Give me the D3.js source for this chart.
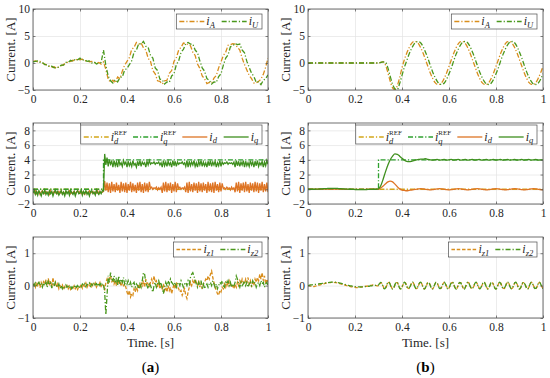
<!DOCTYPE html>
<html>
<head>
<meta charset="utf-8">
<script src="https://cdnjs.cloudflare.com/ajax/libs/d3/7.8.5/d3.min.js"></script>
<style>
  body { margin: 0; background: #fff; }
  svg { display: block; }
</style>
</head>
<body>
<div id="chart"></div>
<script>
// ---- data ----
const xTicks = [0, 0.2, 0.4, 0.6, 0.8, 1];

// sample times: 0.01 s and 0.005 s
const tCoarse = d3.range(0, 101).map(i => i / 100);
const tFine = d3.range(0, 201).map(i => i / 200);

// reference steps (both columns)
const refT = [0, 0.3, 0.3, 1];
const idRef = [0, 0, 0, 0];
const iqRef = [0, 0, 4, 4];

// (a) top: phase currents, 0.01 s
const iaLeft = [0.3,0.4,0.2,0.3,0.0,-0.2,-0.4,-0.6,-0.8,-0.7,
  -1.0,-0.7,-0.5,-0.3,0.0,0.2,0.3,0.5,0.4,0.8,
  0.6,0.7,0.4,0.5,0.2,0.3,0.1,-0.1,0.1,-0.2,
  0.2,-1.2,-3.0,-3.6,-3.2,-3.7,-2.6,-2.9,-1.5,-0.4,
  0.3,1.0,2.5,2.9,3.8,3.5,3.7,2.8,2.4,0.9,
  0.3,-1.4,-2.0,-3.3,-3.4,-3.9,-3.3,-3.2,-1.9,-1.4,
  0.3,1.0,2.4,2.9,3.7,3.6,3.4,3.2,2.0,1.4,
  -0.2,-1.0,-2.4,-2.9,-3.8,-3.6,-3.7,-2.8,-2.3,-0.9,
  0.2,1.4,2.0,3.3,3.4,3.6,3.5,2.9,2.4,0.9,
  -0.3,-1.3,-2.3,-2.9,-3.7,-3.7,-3.4,-3.0,-2.1,-0.8,
  0.9];
const iuLeft = [0.2,0.3,0.4,0.1,0.1,-0.3,-0.3,-0.7,-0.6,-0.9,
  -0.8,-0.8,-0.4,-0.4,0.1,0.1,0.5,0.3,0.7,0.6,
  0.9,0.5,0.6,0.3,0.4,0.0,0.2,-0.2,0.0,0.1,
  2.4,-0.5,-2.4,-3.3,-3.7,-3.1,-3.5,-2.7,-2.6,-1.3,
  -1.0,-0.3,0.4,2.0,2.4,3.6,3.5,4.0,3.1,2.9,
  1.4,0.9,-0.9,-1.4,-3.0,-3.1,-3.9,-3.5,-3.6,-2.4,
  -2.0,-0.3,0.4,2.0,2.5,3.6,3.8,3.5,3.5,2.4,
  1.9,0.4,-0.9,-1.5,-2.9,-3.2,-3.9,-3.5,-3.6,-2.5,
  -2.0,-0.4,0.9,1.5,3.0,3.2,3.6,3.4,3.5,2.4,
  1.9,0.3,-0.8,-1.9,-2.5,-3.6,-3.5,-4.0,-3.2,-2.9,
  -2.2];

// (b) top: phase currents, 0.01 s
const iaRight = [0,0,0,0,0,0,0,0,0,0,
  0,0,0,0,0,0,0,0,0,0,
  0,0,0,0,0,0,0,0,0,0,
  0,0.1,0.2,-0.4,-1.8,-3.4,-4.6,-4.9,-4.2,-2.7,
  -0.9,0.6,1.8,2.8,3.6,3.95,3.95,3.6,2.8,1.8,
  0.6,-0.6,-1.8,-2.8,-3.6,-3.95,-3.95,-3.6,-2.8,-1.8,
  -0.6,0.6,1.8,2.8,3.6,3.95,3.95,3.6,2.8,1.8,
  0.6,-0.6,-1.8,-2.8,-3.6,-3.95,-3.95,-3.6,-2.8,-1.8,
  -0.6,0.6,1.8,2.8,3.6,3.95,3.95,3.6,2.8,1.8,
  0.6,-0.6,-1.8,-2.8,-3.6,-3.95,-3.95,-3.6,-2.8,-1.8,
  -0.6];
const iuRight = [0,0,0,0,0,0,0,0,0,0,
  0,0,0,0,0,0,0,0,0,0,
  0,0,0,0,0,0,0,0,0,0,
  0,0.1,0.2,0.1,-0.9,-2.5,-3.9,-4.8,-4.9,-3.8,
  -2.3,-0.8,0.4,1.6,2.6,3.4,3.9,3.98,3.7,3.0,
  2.0,0.9,-0.4,-1.6,-2.6,-3.4,-3.9,-3.98,-3.7,-3.0,
  -2.0,-0.9,0.4,1.6,2.6,3.4,3.9,3.98,3.7,3.0,
  2.0,0.9,-0.4,-1.6,-2.6,-3.4,-3.9,-3.98,-3.7,-3.0,
  -2.0,-0.9,0.4,1.6,2.6,3.4,3.9,3.98,3.7,3.0,
  2.0,0.9,-0.4,-1.6,-2.6,-3.4,-3.9,-3.98,-3.7,-3.0,
  -2.0];

// (a) middle: dq currents, 0.005 s
const idLeft = [-0.3,-0.5,-0.2,-0.6,-0.4,-0.3,-0.7,-0.4,-0.2,-0.5,
  -0.6,-0.3,-0.5,-0.4,-0.7,-0.2,-0.4,-0.6,-0.3,-0.5,
  -0.4,-0.6,-0.3,-0.5,-0.2,-0.6,-0.4,-0.7,-0.3,-0.5,
  -0.4,-0.2,-0.6,-0.4,-0.5,-0.3,-0.6,-0.4,-0.2,-0.5,
  -0.3,-0.6,-0.4,-0.5,-0.7,-0.3,-0.4,-0.6,-0.2,-0.5,
  -0.4,-0.3,-0.6,-0.4,-0.5,-0.2,-0.6,-0.3,-0.5,-0.4,
  -0.3,1.1,-0.2,0.9,-0.4,0.8,-0.5,1.0,-0.3,0.7,
  -0.4,0.9,-0.2,0.6,-0.5,1.0,-0.3,0.8,-0.4,0.9,
  -0.5,0.7,-0.2,1.0,-0.4,0.8,-0.3,0.6,-0.5,0.9,
  -0.2,1.0,-0.4,0.7,-0.5,0.9,-0.3,0.8,-0.4,1.0,
  0.1,0.3,0.0,0.2,0.1,0.3,-0.1,0.2,0.0,0.3,
  -0.5,0.9,-0.3,1.0,-0.4,0.8,-0.2,0.9,-0.5,0.7,
  -0.3,1.0,-0.4,0.8,0.1,0.3,0.0,0.2,0.1,0.3,
  -0.4,0.9,-0.5,1.0,-0.3,0.7,-0.4,0.9,-0.2,0.8,
  -0.5,1.0,-0.3,0.8,-0.4,0.9,-0.2,0.7,-0.5,1.0,
  -0.3,0.8,-0.4,0.9,-0.5,1.0,-0.2,0.7,-0.4,0.9,
  -0.3,0.8,0.1,0.2,0.0,0.3,0.1,0.2,-0.1,0.3,
  0.0,0.2,-0.4,0.9,-0.3,1.0,-0.5,0.8,-0.2,0.9,
  -0.4,1.0,-0.3,0.7,-0.5,0.9,-0.2,0.8,-0.4,1.0,
  -0.3,0.9,-0.5,0.8,-0.2,1.0,-0.4,0.7,-0.3,0.9,
  -0.4];
const iqLeft = [-0.5,-0.1,-0.7,-0.3,-0.8,-0.2,-0.5,-0.9,-0.3,-0.6,
  -0.1,-0.7,-0.4,-0.8,-0.2,-0.6,-0.3,-0.9,-0.4,-0.1,
  -0.6,-0.3,-0.8,-0.5,-0.2,-0.7,-0.4,-0.9,-0.2,-0.6,
  -0.3,-0.8,-0.1,-0.5,-0.7,-0.3,-0.9,-0.4,-0.2,-0.6,
  -0.5,-0.1,-0.8,-0.3,-0.6,-0.2,-0.7,-0.4,-0.9,-0.3,
  -0.2,-0.6,-0.4,-0.8,-0.1,-0.5,-0.7,-0.3,-0.6,-0.2,
  -0.2,4.8,3.3,4.3,3.1,4.0,3.4,3.8,3.0,3.9,
  3.2,3.7,3.0,4.0,3.3,3.6,3.1,3.9,3.4,3.7,
  3.0,3.8,3.2,3.6,3.1,3.9,3.3,3.5,3.0,3.8,
  3.2,3.9,3.1,3.7,3.4,3.6,3.0,3.8,3.3,3.9,
  3.4,3.6,3.5,3.7,3.4,3.6,3.5,3.7,3.3,3.6,
  3.0,3.9,3.2,3.7,3.1,3.8,3.3,3.6,3.0,3.9,
  3.2,3.8,3.1,3.7,3.4,3.6,3.5,3.7,3.4,3.6,
  3.1,3.9,3.0,3.8,3.2,3.7,3.3,3.9,3.1,3.6,
  3.0,3.8,3.3,3.9,3.1,3.7,3.2,3.6,3.0,3.8,
  3.2,3.9,3.1,3.7,3.3,3.8,3.0,3.6,3.2,3.9,
  3.1,3.7,3.4,3.6,3.5,3.7,3.4,3.6,3.5,3.6,
  3.4,3.7,3.0,3.9,3.2,3.8,3.1,3.7,3.3,3.9,
  3.0,3.8,3.2,3.6,3.1,3.9,3.3,3.7,3.0,3.8,
  3.2,3.9,3.1,3.6,3.3,3.8,3.0,3.7,3.2,3.9,
  3.4];

// (b) middle: dq currents, 0.01 s
const idRight = [0,0,0,0,0,0.01,0.02,0.03,0.03,0.04,
  0.04,0.04,0.03,0.03,0.02,0.01,0,-0.01,-0.01,-0.02,
  -0.02,-0.02,-0.02,-0.01,-0.01,0,0,0,0,0,
  0.0,0.2,0.45,0.75,1.0,1.1,1.0,0.7,0.35,0.05,
  -0.1,-0.15,-0.2,-0.15,-0.1,-0.05,0.0,0.05,0.08,0.05,
  0.0,-0.05,-0.08,-0.05,0.0,0.05,0.08,0.05,0.0,-0.05,
  -0.08,-0.05,0.0,0.05,0.08,0.05,0.0,-0.05,-0.08,-0.05,
  0.0,0.05,0.08,0.05,0.0,-0.05,-0.08,-0.05,0.0,0.05,
  0.08,0.05,0.0,-0.05,-0.08,-0.05,0.0,0.05,0.08,0.05,
  0.0,-0.05,-0.08,-0.05,0.0,0.05,0.08,0.05,0.0,-0.05,
  -0.08];
const iqRight = [0,0,0,0,0.02,0.04,0.06,0.08,0.1,0.12,
  0.13,0.13,0.12,0.1,0.08,0.05,0.03,0.01,0,-0.02,
  -0.03,-0.04,-0.05,-0.05,-0.04,-0.03,-0.02,-0.01,0,0,
  0.05,0.5,1.4,2.4,3.3,4.0,4.5,4.8,4.75,4.5,
  4.2,3.95,3.8,3.75,3.8,3.9,4.0,4.05,4.1,4.1,
  4.15,4.05,4.0,3.95,4.0,4.05,3.95,4.0,4.05,3.95,
  4.0,4.05,3.95,4.0,4.05,3.95,4.0,4.05,3.95,4.0,
  4.05,3.95,4.0,4.05,3.95,4.0,4.05,3.95,4.0,4.05,
  3.95,4.0,4.05,3.95,4.0,4.05,3.95,4.0,4.05,3.95,
  4.0,4.05,3.95,4.0,4.05,3.95,4.0,4.05,3.95,4.0,
  4.0];

// (a) bottom: zero-sequence currents, 0.005 s
const iz1Left = [0.0,0.05,-0.05,0.1,0.0,0.08,-0.06,0.1,0.02,0.12,
  0.05,0.18,0.0,0.22,0.05,0.15,-0.05,0.25,0.0,0.1,
  -0.05,0.05,-0.1,0.0,-0.05,0.02,-0.12,-0.03,-0.08,0.0,
  -0.1,-0.02,-0.12,-0.05,-0.08,0.0,-0.1,-0.04,-0.12,-0.02,
  -0.05,0.05,-0.08,0.02,-0.02,0.08,-0.05,0.04,0.0,0.06,
  -0.03,0.05,0.0,0.08,-0.05,0.03,0.02,0.1,-0.02,0.05,
  0.0,-0.15,0.1,0.2,0.05,0.25,0.3,0.1,0.22,0.05,
  0.15,0.0,0.2,0.08,0.12,-0.02,0.1,0.0,0.05,-0.05,
  -0.2,-0.3,-0.15,-0.35,-0.25,-0.3,-0.1,-0.2,-0.05,-0.15,
  0.05,-0.1,0.1,0.0,0.15,-0.05,0.2,0.05,0.1,-0.05,
  0.1,0.2,0.05,0.3,0.1,0.15,-0.05,0.1,-0.1,0.0,
  -0.1,0.05,-0.15,-0.05,-0.2,0.0,-0.15,-0.05,-0.25,-0.1,
  0.05,-0.1,0.1,-0.05,-0.1,-0.2,-0.15,-0.3,-0.2,-0.1,
  -0.3,-0.4,-0.2,-0.05,0.1,0.0,0.15,0.05,0.2,0.1,
  0.0,0.15,-0.05,0.1,-0.1,0.05,0.1,0.2,0.15,0.3,
  0.2,0.35,0.45,0.25,0.1,-0.05,-0.15,-0.25,-0.3,-0.15,
  -0.2,-0.05,-0.1,0.05,-0.05,0.1,0.0,0.15,0.05,-0.05,
  0.0,-0.1,0.05,-0.05,0.1,0.0,0.15,0.05,0.2,0.1,
  0.05,0.2,0.1,0.25,0.05,0.15,-0.05,0.1,0.0,0.2,
  0.1,0.25,0.15,0.35,0.2,0.4,0.15,0.3,0.05,0.2,
  0.1];
const iz2Left = [0.05,0.0,0.08,-0.02,0.05,0.1,0.0,0.05,-0.05,0.08,
  0.0,0.1,-0.05,0.12,0.02,0.08,-0.08,0.05,-0.02,0.1,
  0.0,-0.05,0.05,-0.08,0.0,-0.1,-0.02,-0.06,0.02,-0.05,
  -0.02,-0.08,0.0,-0.1,-0.04,-0.06,0.02,-0.05,0.0,-0.08,
  0.0,-0.04,0.05,0.0,0.06,-0.03,0.04,0.02,0.08,-0.02,
  0.05,0.0,0.1,0.02,0.06,-0.02,0.08,0.0,0.1,0.03,
  0.05,-0.2,-0.9,-0.3,0.3,0.1,0.4,0.2,0.15,0.3,
  0.1,0.25,0.0,0.3,0.05,0.2,0.1,0.25,0.05,0.15,
  0.05,0.15,0.0,0.1,-0.05,0.05,0.1,-0.05,0.05,0.0,
  -0.1,0.05,-0.05,0.15,0.4,0.35,0.1,0.0,-0.1,0.05,
  0.0,-0.1,-0.2,0.0,0.1,-0.05,0.05,0.15,0.0,0.1,
  -0.1,-0.25,-0.05,0.1,0.0,0.15,0.05,0.2,0.1,0.05,
  0.0,0.1,-0.05,0.05,0.1,0.0,0.15,0.05,-0.05,0.05,
  0.1,0.0,0.15,0.05,0.25,0.35,0.4,0.3,0.15,0.05,
  -0.05,0.1,0.0,0.15,-0.05,0.05,-0.1,0.0,0.05,-0.05,
  0.05,0.1,0.0,0.15,0.05,-0.05,0.05,-0.1,0.0,0.1,
  0.05,0.15,0.0,-0.05,0.1,0.05,0.15,0.0,0.1,-0.05,
  0.05,0.0,0.1,0.3,0.2,0.05,-0.05,0.1,0.0,0.05,
  0.15,0.0,0.1,-0.05,0.05,0.1,0.0,0.15,0.05,0.1,
  -0.05,0.05,0.1,0.0,0.15,0.05,0.1,-0.05,0.05,0.1,
  0.0];

// (b) bottom: zero-sequence currents, 0.005 s
const iz1Right = [0.0,0.0,-0.01,-0.02,-0.02,-0.03,-0.02,-0.01,0.0,0.01,
  0.02,0.03,0.04,0.05,0.06,0.07,0.08,0.08,0.09,0.09,
  0.1,0.1,0.1,0.09,0.09,0.08,0.07,0.06,0.05,0.04,
  0.03,0.02,0.01,0.0,-0.01,-0.02,-0.03,-0.04,-0.04,-0.05,
  -0.05,-0.06,-0.06,-0.06,-0.05,-0.05,-0.04,-0.04,-0.03,-0.02,
  -0.02,-0.01,0.0,0.01,0.01,0.02,0.02,0.01,0.0,-0.01,
  0.0,0.05,0.09,0.06,-0.03,-0.09,-0.08,0.0,0.08,0.1,
  0.04,-0.05,-0.1,-0.07,0.02,0.09,0.09,0.02,-0.07,-0.1,
  -0.05,0.04,0.1,0.08,-0.01,-0.08,-0.09,-0.03,0.06,0.1,
  0.06,-0.03,-0.09,-0.08,0.0,0.08,0.1,0.04,-0.05,-0.1,
  -0.07,0.02,0.09,0.09,0.02,-0.07,-0.1,-0.05,0.04,0.1,
  0.08,-0.01,-0.08,-0.09,-0.03,0.06,0.1,0.06,-0.03,-0.09,
  -0.08,0.0,0.08,0.1,0.04,-0.05,-0.1,-0.07,0.02,0.09,
  0.09,0.02,-0.07,-0.1,-0.05,0.04,0.1,0.08,-0.01,-0.08,
  -0.09,-0.03,0.06,0.1,0.06,-0.03,-0.09,-0.08,0.0,0.08,
  0.1,0.04,-0.05,-0.1,-0.07,0.02,0.09,0.09,0.02,-0.07,
  -0.1,-0.05,0.04,0.1,0.08,-0.01,-0.08,-0.09,-0.03,0.06,
  0.1,0.06,-0.03,-0.09,-0.08,0.0,0.08,0.1,0.04,-0.05,
  -0.1,-0.07,0.02,0.09,0.09,0.02,-0.07,-0.1,-0.05,0.04,
  0.1,0.08,-0.01,-0.08,-0.09,-0.03,0.06,0.1,0.06,-0.03,
  -0.09];
const iz2Right = [0.0,0.01,0.02,0.02,0.03,0.03,0.04,0.04,0.05,0.05,
  0.06,0.06,0.07,0.07,0.08,0.08,0.09,0.09,0.1,0.1,
  0.11,0.11,0.11,0.11,0.1,0.1,0.09,0.08,0.07,0.06,
  0.05,0.04,0.03,0.02,0.01,0.0,-0.01,-0.01,-0.02,-0.02,
  -0.03,-0.03,-0.03,-0.04,-0.04,-0.04,-0.04,-0.04,-0.03,-0.03,
  -0.03,-0.02,-0.02,-0.01,-0.01,0.0,0.0,0.01,0.01,0.0,
  0.02,0.07,0.1,0.05,-0.04,-0.1,-0.07,0.02,0.1,0.11,
  0.03,-0.06,-0.11,-0.06,0.03,0.1,0.1,0.01,-0.08,-0.1,
  -0.04,0.05,0.11,0.07,-0.02,-0.09,-0.08,-0.02,0.07,0.11,
  0.05,-0.04,-0.1,-0.07,0.01,0.09,0.11,0.03,-0.06,-0.11,
  -0.06,0.03,0.1,0.08,0.01,-0.08,-0.11,-0.04,0.05,0.11,
  0.07,-0.02,-0.09,-0.08,-0.02,0.07,0.11,0.05,-0.04,-0.1,
  -0.07,0.01,0.09,0.11,0.03,-0.06,-0.11,-0.06,0.03,0.1,
  0.08,0.01,-0.08,-0.11,-0.04,0.05,0.11,0.07,-0.02,-0.09,
  -0.08,-0.02,0.07,0.11,0.05,-0.04,-0.1,-0.07,0.01,0.09,
  0.11,0.03,-0.06,-0.11,-0.06,0.03,0.1,0.08,0.01,-0.08,
  -0.11,-0.04,0.05,0.11,0.07,-0.02,-0.09,-0.08,-0.02,0.07,
  0.11,0.05,-0.04,-0.1,-0.07,0.01,0.09,0.11,0.03,-0.06,
  -0.11,-0.06,0.03,0.1,0.08,0.01,-0.08,-0.11,-0.04,0.05,
  0.11,0.07,-0.02,-0.09,-0.08,-0.02,0.07,0.11,0.05,-0.04,
  -0.1];

// ---- layout ----
const W = 550, H = 378;
const colX = [33, 308];
const rowY = [9, 123, 237];
const pw = 235, ph = 81;
const serif = 'Liberation Serif';

const orange = '#D98E1C', orangeD = '#DE7424', gold = '#D4A61A';
const green = '#4A981C', greenD = '#3F8F1E', greenRef = '#2FA12F';
const dashDot = '5,2,1.2,2';
const dashed = '3.5,1.8';

const topRow = (col, ia, iu, curve) => ({
  col: col, row: 0, yDomain: [-5, 10], yTicks: [-5, 0, 5, 10], legTop: 5, legH: 15,
  series: [
    { t: tCoarse, v: ia, color: orange, dash: dashDot, curve: curve, label: { sub: 'A' } },
    { t: tCoarse, v: iu, color: green, dash: dashDot, curve: curve, label: { sub: 'U' } }
  ]
});
const midRow = (col, tt, id, iq, curve) => ({
  col: col, row: 1, yDomain: [-2, 9], yTicks: [-2, 0, 2, 4, 6, 8], legTop: 2, legH: 19,
  series: [
    { t: refT, v: idRef, color: gold, dash: dashDot, curve: d3.curveLinear, label: { sub: 'd', sup: 'REF' } },
    { t: refT, v: iqRef, color: greenRef, dash: dashDot, curve: d3.curveLinear, label: { sub: 'q', sup: 'REF' } },
    { t: tt, v: id, color: orangeD, dash: null, curve: curve, label: { sub: 'd' } },
    { t: tt, v: iq, color: greenD, dash: null, curve: curve, label: { sub: 'q' } }
  ]
});
const botRow = (col, z1, z2, curve) => ({
  col: col, row: 2, yDomain: [-1, 1.5], yTicks: [-1, 0, 1], legTop: 5, legH: 15,
  series: [
    { t: tFine, v: z1, color: orange, dash: dashed, curve: curve, label: { sub: 'z1' } },
    { t: tFine, v: z2, color: green, dash: dashDot, curve: curve, label: { sub: 'z2' } }
  ]
});

const panels = [
  topRow(0, iaLeft, iuLeft, d3.curveLinear),
  topRow(1, iaRight, iuRight, d3.curveMonotoneX),
  midRow(0, tFine, idLeft, iqLeft, d3.curveLinear),
  midRow(1, tCoarse, idRight, iqRight, d3.curveMonotoneX),
  botRow(0, iz1Left, iz2Left, d3.curveLinear),
  botRow(1, iz1Right, iz2Right, d3.curveMonotoneX)
];

const svg = d3.select('#chart')
  .append('svg')
  .attr('width', W)
  .attr('height', H);

panels.forEach((p, k) => {
  const left = colX[p.col], top = rowY[p.row];
  const x = d3.scaleLinear().domain([0, 1]).range([0, pw]);
  const y = d3.scaleLinear().domain(p.yDomain).range([ph, 0]);

  const g = svg.append('g').attr('transform', `translate(${left},${top})`);

  g.append('rect').attr('width', pw).attr('height', ph).attr('fill', '#fff');

  // grid
  const gx = g.append('g')
    .call(d3.axisBottom(x).tickValues(xTicks).tickSize(ph).tickFormat(''));
  gx.select('.domain').remove();
  gx.selectAll('line').attr('stroke', '#e4e4e4').attr('stroke-width', 0.7);
  const gy = g.append('g')
    .call(d3.axisLeft(y).tickValues(p.yTicks).tickSize(-pw).tickFormat(''));
  gy.select('.domain').remove();
  gy.selectAll('line').attr('stroke', '#e4e4e4').attr('stroke-width', 0.7);

  // curves
  g.append('clipPath').attr('id', 'clip' + k)
    .append('rect').attr('width', pw).attr('height', ph);
  const plot = g.append('g').attr('clip-path', `url(#clip${k})`);
  p.series.forEach(s => {
    const line = d3.line()
      .x((d, i) => x(s.t[i]))
      .y(d => y(d))
      .curve(s.curve);
    plot.append('path')
      .datum(s.v)
      .attr('d', line)
      .attr('fill', 'none')
      .attr('stroke', s.color)
      .attr('stroke-width', 1.3)
      .attr('stroke-dasharray', s.dash);
  });

  // axes with inner ticks
  const xa = g.append('g')
    .attr('transform', `translate(0,${ph})`)
    .call(d3.axisBottom(x).tickValues(xTicks).tickSize(-2.5).tickPadding(5).tickFormat(d3.format('~g')));
  const ya = g.append('g')
    .call(d3.axisLeft(y).tickValues(p.yTicks).tickSize(-2.5).tickPadding(3).tickFormat(d3.format('~g')));
  const xt = g.append('g')
    .call(d3.axisTop(x).tickValues(xTicks).tickSize(-2.5).tickFormat(''));
  const yt = g.append('g')
    .attr('transform', `translate(${pw},0)`)
    .call(d3.axisRight(y).tickValues(p.yTicks).tickSize(-2.5).tickFormat(''));
  [xa, ya, xt, yt].forEach(a => {
    a.attr('font-size', 11.5);
    a.select('.domain').remove();
    a.selectAll('line').attr('stroke', '#4d4d4d').attr('stroke-width', 0.7);
    a.selectAll('text').attr('fill', '#262626');
  });

  // box
  g.append('rect')
    .attr('width', pw).attr('height', ph)
    .attr('fill', 'none')
    .attr('stroke', '#4d4d4d')
    .attr('stroke-width', 0.8);

  // y label
  g.append('text')
    .attr('transform', `translate(-18.5,${ph / 2}) rotate(-90)`)
    .attr('text-anchor', 'middle')
    .attr('font-size', 13)
    .attr('fill', '#262626')
    .style('font-family', serif)
    .text('Current. [A]');

  // legend
  const lg = g.append('g');
  const box = lg.append('rect')
    .attr('fill', '#fff')
    .attr('stroke', '#4d4d4d')
    .attr('stroke-width', 0.7);
  const lineY = p.legTop + (p.legH > 15 ? p.legH - 7 : p.legH / 2);
  let cur = 3;
  p.series.forEach(s => {
    lg.append('line')
      .attr('x1', cur).attr('x2', cur + 25)
      .attr('y1', lineY).attr('y2', lineY)
      .attr('stroke', s.color)
      .attr('stroke-width', 1.3)
      .attr('stroke-dasharray', s.dash);
    const lx = cur + 27, ly = lineY + 3.5;
    const txt = lg.append('text')
      .attr('x', lx).attr('y', ly)
      .attr('font-size', 12)
      .attr('font-style', 'italic')
      .attr('fill', '#262626')
      .style('font-family', serif);
    txt.append('tspan').text('i');
    if (s.label.sup) {
      txt.append('tspan').attr('font-size', 7).attr('font-style', 'normal').attr('dy', -6).text(s.label.sup);
      txt.append('tspan').attr('x', lx + 3.3).attr('dy', 9).attr('font-size', 8.5).text(s.label.sub);
    } else {
      txt.append('tspan').attr('font-size', 8.5).attr('dy', 2.5).text(s.label.sub);
    }
    cur = lx + txt.node().getBBox().width + 6;
  });
  const legW = cur - 6 + 3;
  lg.attr('transform', `translate(${pw - 6 - legW},0)`);
  box.attr('x', 0).attr('y', p.legTop).attr('width', legW).attr('height', p.legH);
});

// bottom captions
[0, 1].forEach(c => {
  const cx = colX[c] + pw / 2;
  svg.append('text')
    .attr('x', cx).attr('y', 347)
    .attr('text-anchor', 'middle')
    .attr('font-size', 13)
    .attr('fill', '#262626')
    .text('Time. [s]');
  const cap = svg.append('text')
    .attr('x', cx).attr('y', 371.5)
    .attr('text-anchor', 'middle')
    .attr('font-size', 15)
    .attr('fill', '#000');
  cap.append('tspan').text('(');
  cap.append('tspan').attr('font-weight', 'bold').text(c === 0 ? 'a' : 'b');
  cap.append('tspan').text(')');
});

// every text in the serif face
svg.selectAll('text').style('font-family', serif);
</script>
</body>
</html>
